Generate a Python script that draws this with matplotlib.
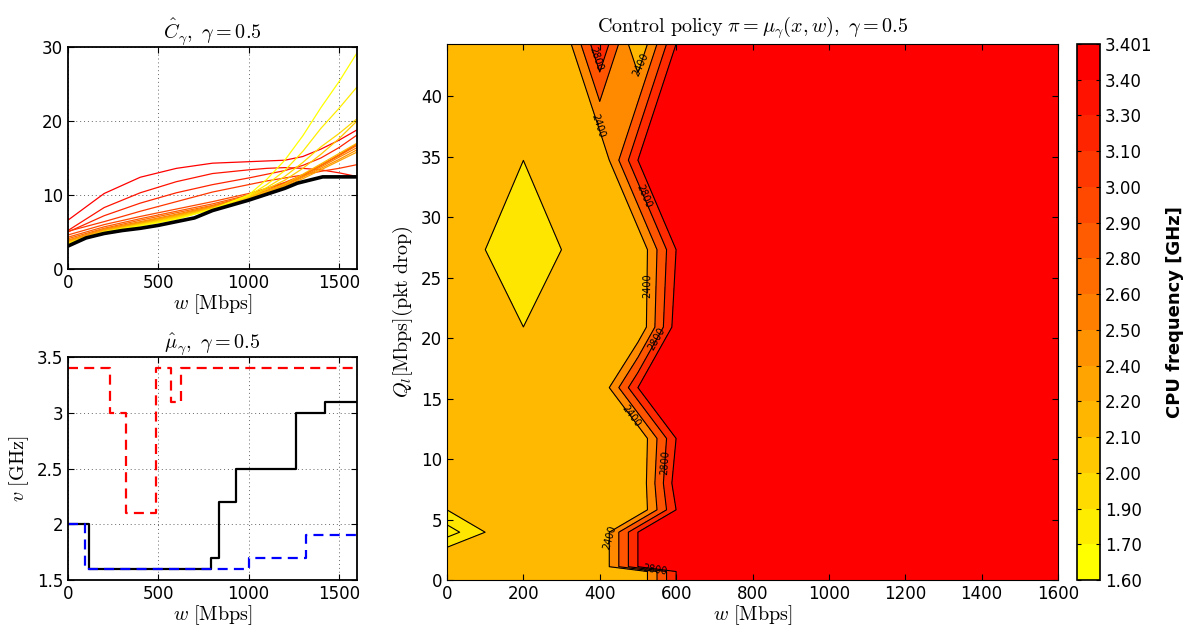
import numpy as np
import matplotlib.pyplot as plt
import matplotlib as mpl
from matplotlib.colors import ListedColormap, BoundaryNorm

plt.rcParams['font.family'] = ['DejaVu Sans']
plt.rcParams['mathtext.fontset'] = 'cm'

# ---------------- cost curves C_gamma, one per CPU frequency (red = 3.4 GHz ... yellow = 1.6 GHz)
w_cost = [0, 200, 400, 600, 800, 1000, 1100, 1200, 1300, 1400, 1500, 1600]
cost_curves = [
    [6.6, 10.2, 12.4, 13.6, 14.3, 14.5, 14.6, 14.7, 15.2, 16.2, 17.4, 18.8],
    [5.2, 8.3, 10.3, 11.8, 12.9, 13.4, 13.6, 13.7, 13.6, 13.4, 13.0, 12.5],
    [5.0, 7.2, 8.9, 10.3, 11.4, 12.3, 12.8, 13.3, 14.0, 15.0, 16.4, 18.1],
    [5.1, 6.4, 7.8, 9.1, 10.4, 11.4, 11.9, 12.3, 12.7, 13.2, 13.6, 14.1],
    [4.6, 6.0, 7.1, 8.1, 9.1, 10.2, 10.9, 11.7, 12.7, 14.0, 15.4, 16.9],
    [4.3, 5.7, 6.8, 7.8, 8.8, 10.0, 10.8, 11.6, 12.7, 14.0, 15.4, 16.9],
    [4.1, 5.5, 6.6, 7.6, 8.6, 9.9, 10.6, 11.5, 12.7, 14.0, 15.3, 16.7],
    [3.9, 5.4, 6.4, 7.4, 8.5, 9.8, 10.5, 11.4, 12.5, 13.8, 15.1, 16.4],
    [3.8, 5.3, 6.3, 7.3, 8.4, 9.7, 10.4, 11.3, 12.4, 13.6, 14.8, 16.1],
    [3.7, 5.2, 6.2, 7.2, 8.3, 9.6, 10.3, 11.2, 12.2, 13.4, 14.6, 15.8],
    [3.6, 5.1, 6.1, 7.1, 8.2, 9.6, 10.5, 11.5, 12.8, 14.2, 15.6, 17.0],
    [3.5, 5.1, 6.0, 7.0, 8.2, 9.7, 10.8, 12.0, 13.6, 15.5, 17.6, 20.0],
    [3.5, 5.0, 6.0, 6.9, 8.1, 9.8, 11.0, 12.5, 14.4, 16.5, 18.3, 20.3],
    [3.4, 5.0, 5.9, 6.8, 8.1, 9.9, 11.4, 13.3, 15.9, 19.0, 21.7, 24.6],
    [3.3, 5.0, 5.8, 6.7, 8.1, 10.0, 12.1, 14.7, 18.0, 21.8, 25.3, 29.2],
]
w_best = [0, 100, 200, 300, 400, 500, 600, 700, 800, 900, 1000, 1100, 1200, 1270, 1410, 1500, 1600]
cost_best = [3.1, 4.2, 4.8, 5.2, 5.5, 5.9, 6.4, 6.9, 7.9, 8.6, 9.3, 10.1, 10.9, 11.6, 12.45, 12.45, 12.45]

# ---------------- policy mu_gamma (step functions)
w_hi = [0, 231, 323, 489, 572, 627, 1600]
v_hi = [3.4, 3.0, 2.1, 3.4, 3.1, 3.4, 3.4]
w_mid = [0, 116, 790, 834, 928, 1260, 1421, 1600]
v_mid = [2.0, 1.6, 1.7, 2.2, 2.5, 3.0, 3.1, 3.1]
w_lo = [0, 96, 1002, 1315, 1600]
v_lo = [2.0, 1.6, 1.7, 1.9, 1.9]

# ---------------- control policy map (MHz) on w x Q_l grid
w_grid = [0, 100, 200, 300, 400, 500, 600, 700, 800, 900, 1000, 1100, 1200, 1300, 1400, 1500, 1600]
q_grid = [0.0, 0.7, 1.1, 2.7, 3.95, 5.8, 8.0, 11.7, 15.9, 20.9, 27.3, 34.7, 44.3]
policy = [
    [2200, 2200, 2200, 2200, 2200, 2200, 3000, 3000, 3000, 3000, 3000, 3000, 3000, 3000, 3000, 3000, 3000],
    [2200, 2200, 2200, 2200, 2200, 2200, 3000, 3000, 3000, 3000, 3000, 3000, 3000, 3000, 3000, 3000, 3000],
    [2200, 2200, 2200, 2200, 2200, 3000, 3000, 3000, 3000, 3000, 3000, 3000, 3000, 3000, 3000, 3000, 3000],
    [2200, 2200, 2200, 2200, 2200, 3000, 3000, 3000, 3000, 3000, 3000, 3000, 3000, 3000, 3000, 3000, 3000],
    [1900, 2200, 2200, 2200, 2200, 3000, 3000, 3000, 3000, 3000, 3000, 3000, 3000, 3000, 3000, 3000, 3000],
    [2200, 2200, 2200, 2200, 2200, 2200, 3000, 3000, 3000, 3000, 3000, 3000, 3000, 3000, 3000, 3000, 3000],
    [2200, 2200, 2200, 2200, 2200, 2200, 3100, 3000, 3000, 3000, 3000, 3000, 3000, 3000, 3000, 3000, 3000],
    [2200, 2200, 2200, 2200, 2200, 2200, 3000, 3000, 3000, 3000, 3000, 3000, 3000, 3000, 3000, 3000, 3000],
    [2200, 2200, 2200, 2200, 2200, 3000, 3000, 3000, 3000, 3000, 3000, 3000, 3000, 3000, 3000, 3000, 3000],
    [2200, 2200, 2200, 2200, 2200, 2200, 3100, 3000, 3000, 3000, 3000, 3000, 3000, 3000, 3000, 3000, 3000],
    [2200, 2200, 2000, 2200, 2200, 2200, 3000, 3000, 3000, 3000, 3000, 3000, 3000, 3000, 3000, 3000, 3000],
    [2200, 2200, 2200, 2200, 2200, 3000, 3000, 3000, 3000, 3000, 3000, 3000, 3000, 3000, 3000, 3000, 3000],
    [2200, 2200, 2200, 2200, 2990, 2200, 3000, 3000, 3000, 3000, 3000, 3000, 3000, 3000, 3000, 3000, 3000],
]
contour_levels = [1800, 2000, 2200, 2400, 2600, 2800, 3000, 3200]
band_colors = ['#FFEC00', '#FFE600', '#FFB900', '#FF8A00', '#FF5500', '#FF2A00', '#FF0000']
label_2400 = [(398, 37.6), (507, 42.6), (520, 24.3), (476, 13.4), (424, 3.5)]
label_2800 = [(385, 43.0), (511, 31.7), (546, 20.0), (568, 9.7), (545, 0.85)]

freq_ticks = ['1.60', '1.70', '1.90', '2.00', '2.10', '2.20', '2.40', '2.50', '2.60',
              '2.80', '2.90', '3.00', '3.10', '3.30', '3.40', '3.401']

fig = plt.figure(figsize=(11.85, 6.32), dpi=100)
W, H = 1185, 632

def px_axes(x0, y0, x1, y1):
    return fig.add_axes([x0 / W, 1 - y1 / H, (x1 - x0) / W, (y1 - y0) / H])

n = len(cost_curves)
tsize = 14.5
ticksize = 12

# ---- top left: cost curves
ax1 = px_axes(68, 47, 357, 269)
for i, c in enumerate(cost_curves):
    ax1.plot(w_cost, c, color=(1, i / (n - 1), 0), lw=0.9)
ax1.plot(w_best, cost_best, color='k', lw=2.6)
ax1.set_xlim(0, 1600)
ax1.set_ylim(0, 30)
ax1.set_xticks([0, 500, 1000, 1500])
ax1.set_yticks([0, 10, 20, 30])
ax1.set_title(r'$\hat{C}_\gamma,\ \gamma = 0.5$', fontsize=tsize, pad=6)
ax1.set_xlabel(r'$w\ \mathrm{[Mbps]}$', fontsize=tsize, labelpad=0)

# ---- bottom left: policy steps
ax2 = px_axes(68, 357, 357, 580)
dash = (0, (4.5, 2.8))
ax2.plot(w_hi, v_hi, drawstyle='steps-post', color='r', lw=1.6, linestyle=dash)
ax2.plot(w_mid, v_mid, drawstyle='steps-post', color='k', lw=1.6)
ax2.plot(w_lo, v_lo, drawstyle='steps-post', color='b', lw=1.6, linestyle=dash)
ax2.set_xlim(0, 1600)
ax2.set_ylim(1.5, 3.5)
ax2.set_xticks([0, 500, 1000, 1500])
ax2.set_yticks([1.5, 2, 2.5, 3, 3.5])
ax2.set_yticklabels(['1.5', '2', '2.5', '3', '3.5'])
ax2.set_title(r'$\hat{\mu}_\gamma,\ \gamma = 0.5$', fontsize=tsize, pad=6)
ax2.set_xlabel(r'$w\ \mathrm{[Mbps]}$', fontsize=tsize, labelpad=0)
ax2.set_ylabel(r'$v\ \mathrm{[GHz]}$', fontsize=tsize, labelpad=4)

for ax in (ax1, ax2):
    ax.grid(True, linestyle=(0, (1, 3)), color='#666666', lw=0.7)
    ax.tick_params(direction='in', top=True, right=True, labelsize=ticksize, length=4)
    for s in ax.spines.values():
        s.set_linewidth(1.3)

# ---- main contour map
ax3 = px_axes(447, 44, 1058, 580)
Z = np.array(policy, dtype=float)
lv = np.array(contour_levels) - 0.5
ax3.contourf(w_grid, q_grid, Z, levels=lv, colors=band_colors)
plain = [v for v in lv if v not in (2399.5, 2799.5)]
ax3.contour(w_grid, q_grid, Z, levels=plain, colors='k', linewidths=0.8)
fmt = lambda v: f'{v + 0.5:.0f}'
for lev, spots in ((2399.5, label_2400), (2799.5, label_2800)):
    cl = ax3.contour(w_grid, q_grid, Z, levels=[lev], colors='k', linewidths=0.8)
    ax3.clabel(cl, fmt=fmt, fontsize=7, inline=False, manual=spots)
ax3.set_xlim(0, 1600)
ax3.set_ylim(0, 44.3)
ax3.set_xticks(range(0, 1601, 200))
ax3.set_yticks(range(0, 41, 5))
ax3.tick_params(direction='in', top=True, right=True, labelsize=ticksize, length=4)
ax3.set_title(r'$\mathrm{Control\ policy}\ \pi = \mu_\gamma(x, w),\ \gamma = 0.5$', fontsize=tsize, pad=8)
ax3.set_xlabel(r'$w\ \mathrm{[Mbps]}$', fontsize=tsize, labelpad=0)
ax3.set_ylabel(r'$Q_l\mathrm{[Mbps](pkt\ drop)}$', fontsize=tsize, labelpad=4)

# ---- colorbar with the available CPU frequencies
cax = px_axes(1077, 44, 1100, 580)
nb = len(freq_ticks) - 1
cb_cmap = ListedColormap([(1, 1 - i / (nb - 1), 0) for i in range(nb)])
cb = mpl.colorbar.ColorbarBase(cax, cmap=cb_cmap, norm=BoundaryNorm(np.arange(nb + 1), nb),
                               ticks=np.arange(nb + 1))
cb.set_ticklabels(freq_ticks)
cb.outline.set_linewidth(1.2)
cax.tick_params(direction='in', length=3, labelsize=ticksize, left=True)
cb.set_label('CPU frequency [GHz]', fontsize=13, fontweight='bold', labelpad=10)

fig.savefig('out.png', dpi=100)
